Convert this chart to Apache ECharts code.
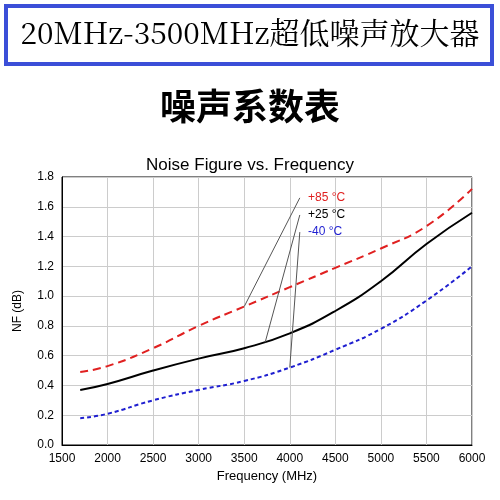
<!DOCTYPE html><html><head><meta charset="utf-8">
<script src="https://cdn.jsdelivr.net/npm/echarts@6/dist/echarts.min.js"></script>
<style>body{margin:0}#c{width:500px;height:500px}</style></head><body><div id="c"></div>
<script>
const freq=[1700,2000,2500,3000,3500,4000,4500,5000,5500,6000];
const nf85=[0.49,0.53,0.65,0.80,0.93,1.06,1.19,1.32,1.47,1.72];
const nf25=[0.37,0.41,0.50,0.58,0.65,0.75,0.90,1.10,1.35,1.56];
const nfm40=[0.18,0.21,0.30,0.37,0.43,0.52,0.64,0.78,0.97,1.20];
const labels=['+85 °C','+25 °C','-40 °C'];
const colors=['#e02020','#000000','#1f1fd0'];
const labelY=[1.66,1.545,1.43];
const anchors=[[3500,0.93],[3730,0.69],[4000,0.52]];
const z=(a,b)=>a.map((v,i)=>[v,b[i]]);
const data=[nf85,nf25,nfm40];
const types=[[8,5],'solid',[4,3]];
const series=data.map((d,i)=>({type:'line',data:z(freq,d),symbol:'none',smooth:true,
 lineStyle:{color:colors[i],width:2,type:types[i]},
 markLine:{silent:true,symbol:'none',lineStyle:{color:'#555',width:1,type:'solid'},label:{show:false},
   data:[[{coord:[4110,labelY[i]]},{coord:anchors[i]}]]},
 markPoint:{symbol:'circle',symbolSize:0,data:[{coord:[4200,labelY[i]]}],
   label:{show:true,position:'right',distance:0,formatter:labels[i],color:colors[i],fontSize:12,fontFamily:'Arial'}}
}));
const ch=echarts.init(document.getElementById('c'));
ch.setOption({animation:false,
 graphic:[{type:'rect',shape:{x:6,y:6,width:486,height:58},style:{fill:'#fff',stroke:'#3b4fd8',lineWidth:4}},
  {type:'text',left:'center',top:18,style:{text:'20MHz-3500MHz超低噪声放大器',font:'30px "Noto Serif CJK SC","Liberation Serif",serif',fill:'#000'}},
  {type:'text',left:'center',top:88,style:{text:'噪声系数表',font:'bold 36px "Noto Sans CJK SC"',fill:'#000'}}],
 title:{text:'Noise Figure vs. Frequency',left:'center',top:152,textStyle:{fontSize:17,fontWeight:'normal',fontFamily:'Arial',color:'#000'}},
 grid:{left:62,right:28,top:177,bottom:55,show:true,borderColor:'#000',borderWidth:1},
 xAxis:{type:'value',min:1500,max:6000,interval:500,name:'Frequency (MHz)',nameLocation:'middle',nameGap:24,
  nameTextStyle:{fontSize:13,color:'#000',fontFamily:'Arial'},axisLabel:{color:'#000',fontSize:12,fontFamily:'Arial',formatter:v=>String(v)},
  axisLine:{lineStyle:{color:'#000'}},axisTick:{show:false},splitLine:{lineStyle:{color:'#ccc'}}},
 yAxis:{type:'value',min:0,max:1.8,interval:0.2,name:'NF (dB)',nameLocation:'middle',nameGap:38,
  nameTextStyle:{fontSize:12,color:'#000',fontFamily:'Arial'},axisLabel:{color:'#000',fontSize:12,fontFamily:'Arial',formatter:v=>v.toFixed(1)},
  axisLine:{show:true,lineStyle:{color:'#000'}},axisTick:{show:false},splitLine:{lineStyle:{color:'#ccc'}}},
 series});
</script></body></html>
